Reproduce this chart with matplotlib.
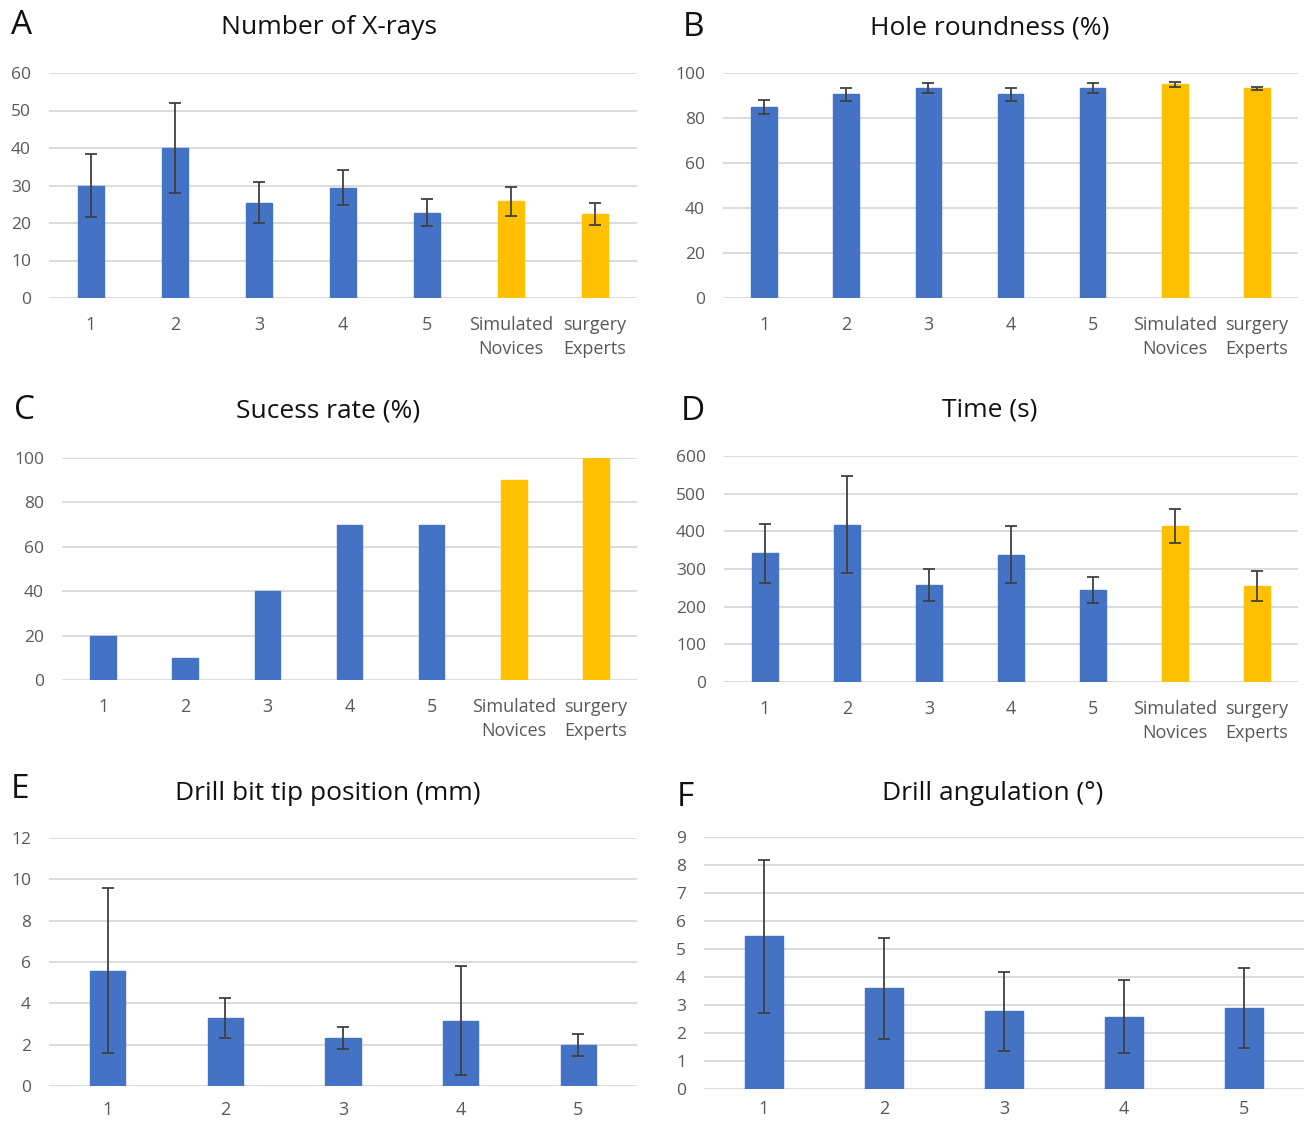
import matplotlib
matplotlib.use("Agg")
import matplotlib.pyplot as plt
import numpy as np

plt.rcParams['font.family'] = ['Open Sans', 'DejaVu Sans']

W, H = 1304, 1122
BLUE = "#4472C4"
ORANGE = "#FFC000"
GRID = "#D9D9D9"
TXT = "#595959"

cats7 = ["1", "2", "3", "4", "5", "Simulated\nNovices", "surgery\nExperts"]
cats5 = ["1", "2", "3", "4", "5"]
colors7 = [BLUE] * 5 + [ORANGE] * 2
colors5 = [BLUE] * 5

xray_mean = [29.9, 40.0, 25.4, 29.4, 22.7, 25.8, 22.4]
xray_err = [8.4, 12.0, 5.5, 4.7, 3.6, 3.8, 2.9]

round_mean = [84.9, 90.5, 93.3, 90.5, 93.3, 94.9, 93.3]
round_err = [3.3, 3.0, 2.2, 3.0, 2.2, 1.2, 0.7]

success = [20, 10, 40, 70, 70, 90, 100]

time_mean = [342, 418, 258, 338, 244, 414, 254]
time_err = [78, 128, 43, 75, 34, 46, 40]

tip_mean = [5.58, 3.31, 2.33, 3.16, 1.99]
tip_err = [4.0, 0.97, 0.53, 2.65, 0.54]

ang_mean = [5.45, 3.6, 2.77, 2.58, 2.88]
ang_err = [2.73, 1.8, 1.4, 1.3, 1.43]

fig = plt.figure(figsize=(W / 100, H / 100), dpi=100)


def axpx(l, t, r, b):
    return fig.add_axes([l / W, 1 - b / H, (r - l) / W, (b - t) / H])


def panel(rect, cats, vals, errs, colors, ymax, ystep, title, tx, ty, letter, lx, ly,
          width=0.31, xpad=13):
    ax = axpx(*rect)
    x = np.arange(len(cats))
    ax.bar(x, vals, width=width, color=colors, edgecolor=colors, linewidth=1.0, zorder=3)
    if errs is not None:
        ax.errorbar(x, vals, yerr=errs, fmt='none', ecolor="#404040", elinewidth=1.3,
                    capsize=4, capthick=1.3, zorder=4, clip_on=False)
    ax.set_xlim(-0.5, len(cats) - 0.5)
    ax.set_ylim(0, ymax)
    ax.set_yticks(np.arange(0, ymax + ystep / 2, ystep))
    ax.yaxis.grid(True, color=GRID, linewidth=1.3, zorder=0)
    ax.set_axisbelow(True)
    for s in ax.spines.values():
        s.set_visible(False)
    ax.set_xticks(x)
    ax.set_xticklabels(cats, linespacing=1.4)
    ax.tick_params(axis='both', length=0, labelcolor=TXT)
    ax.tick_params(axis='x', pad=xpad, labelsize=13)
    ax.tick_params(axis='y', pad=13, labelsize=12.5)
    fig.text(tx / W, 1 - ty / H, title, ha='center', va='center', fontsize=19, color="#111111")
    fig.text(lx / W, 1 - ly / H, letter, ha='center', va='center', fontsize=24, color="#111111")
    return ax


panel((49, 73, 637, 298), cats7, xray_mean, xray_err, colors7, 60, 10,
      "Number of X-rays", 329, 28, "A", 22, 25)
panel((723, 73, 1298, 298), cats7, round_mean, round_err, colors7, 100, 20,
      "Hole roundness (%)", 990, 28, "B", 693, 28)
panel((62, 458, 637, 680), cats7, success, None, colors7, 100, 20,
      "Sucess rate (%)", 328, 411, "C", 25, 410)
panel((724, 456, 1298, 682), cats7, time_mean, time_err, colors7, 600, 100,
      "Time (s)", 990, 410, "D", 693, 412)
panel((49, 838, 637, 1086), cats5, tip_mean, tip_err, colors5, 12, 2,
      "Drill bit tip position (mm)", 328, 793, "E", 20, 790, width=0.3, xpad=11)
panel((704, 837, 1304, 1089), cats5, ang_mean, ang_err, colors5, 9, 1,
      "Drill angulation (°)", 993, 793, "F", 685, 797, width=0.32, xpad=8)

fig.savefig("out.png", dpi=100, facecolor="white")
